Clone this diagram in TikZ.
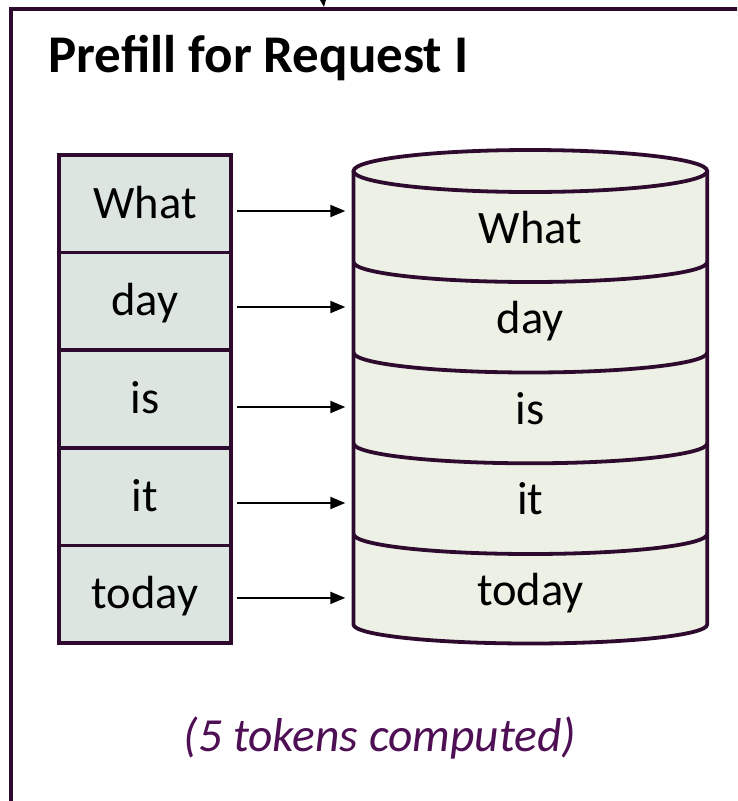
\documentclass[tikz,border=0pt]{standalone}
\usepackage{fontspec}
\setmainfont{Carlito}
\usetikzlibrary{arrows.meta}
\definecolor{framecol}{HTML}{2E0B2E}
\definecolor{cellfill}{HTML}{DDE5E1}
\definecolor{cylfill}{HTML}{EDF1E5}
\definecolor{notecol}{HTML}{4E0F55}
\tikzset{
  outline/.style={draw=framecol, line width=3.8pt},
  tokencell/.style={outline, fill=cellfill, rectangle, minimum width=172.5pt,
    minimum height=97.7pt, inner sep=0pt, text height=30pt, text depth=1.2pt,
    font=\fontsize{46.5}{50}\selectfont},
  bandlabel/.style={rectangle, minimum width=353.7pt, minimum height=60pt,
    inner sep=0pt, text height=30pt, text depth=1.2pt,
    font=\fontsize{46.5}{50}\selectfont},
  feed/.style={line width=2pt, -{Triangle[length=15pt, width=12pt]},
    shorten <=4pt, shorten >=8pt},
}
\begin{document}
\begin{tikzpicture}[x=1pt, y=-1pt]
\useasboundingbox (0,0) rectangle (737,801);
\clip (0,0) rectangle (737,801);

% enclosing panel (only its top and left edges fall inside the picture)
\draw[outline] (11,830) -- (11,9) -- (760,9);
% tip of an incoming arrow at the top edge
\coordinate (inTop) at (324,7);
\draw[line width=2pt, -{Triangle[length=15pt, width=12pt]}] (318,-40) -- (inTop);

\node[anchor=base west, font=\bfseries\fontsize{53}{60}\selectfont] (title) at (45,72) {Prefill for Request I};

% token column
\node[tokencell] (w1) at (145,203.6) {What};
\node[tokencell] (w2) at (145,301.3) {day};
\node[tokencell] (w3) at (145,399.0) {is};
\node[tokencell] (w4) at (145,496.7) {it};
\node[tokencell] (w5) at (145,594.4) {today};

% KV cache cylinder
\path[fill=cylfill] (353.5,171) -- (353.5,624.5)
  arc[start angle=180, end angle=0, x radius=176.85, y radius=19]
  -- (707.2,171) -- cycle;
\draw[outline, fill=cylfill] (530.35,171) ellipse[x radius=176.85, y radius=21];
\foreach \yy in {262,352.5,443.3,534} {
  \draw[outline] (353.5,\yy) arc[start angle=180, end angle=0, x radius=176.85, y radius=20];
}
\draw[outline] (353.5,171) -- (353.5,624.5)
  arc[start angle=180, end angle=0, x radius=176.85, y radius=19]
  -- (707.2,171);

\node[bandlabel] (b1) at (530.35,229) {What};
\node[bandlabel] (b2) at (530.35,319.5) {day};
\node[bandlabel] (b3) at (530.35,410) {is};
\node[bandlabel] (b4) at (530.35,500.5) {it};
\node[bandlabel] (b5) at (530.35,591) {today};

% token -> cache arrows
\foreach \i/\dy in {1/7.4, 2/5.7, 3/8, 4/6.3, 5/3.5} {
  \draw[feed] ([yshift=-\dy pt]w\i.east) -- ([yshift=-\dy pt]w\i.east -| b\i.west);
}

\node[anchor=base, text=notecol, font=\itshape\fontsize{47.5}{50}\selectfont] (note) at (380,751) {(5 tokens computed)};
\end{tikzpicture}
\end{document}
